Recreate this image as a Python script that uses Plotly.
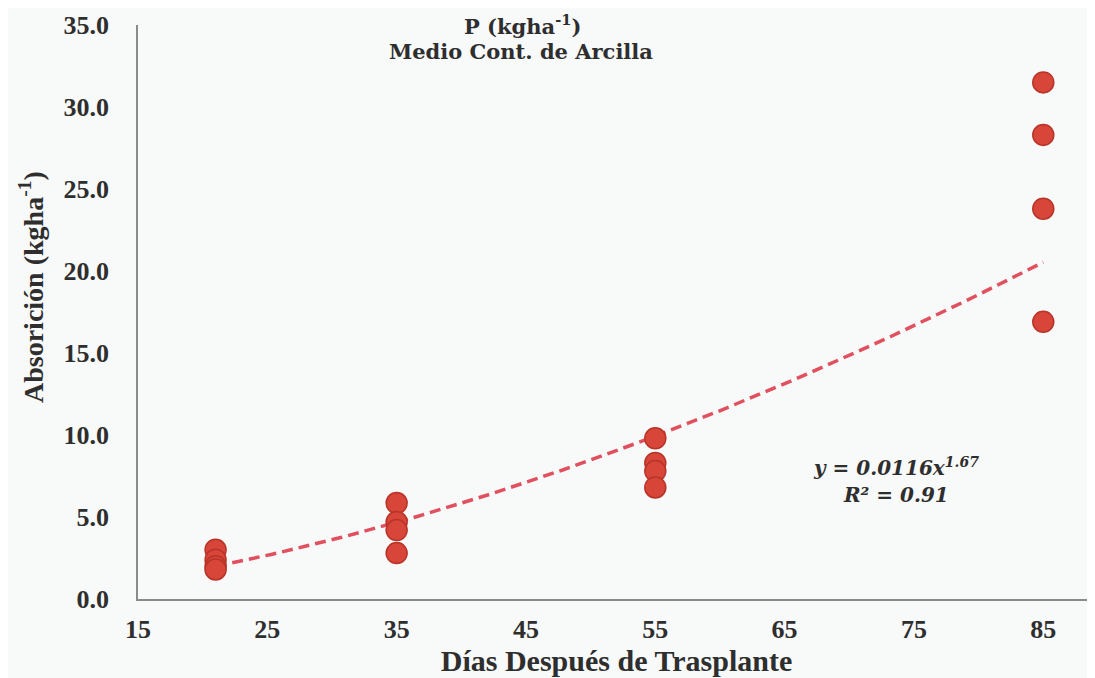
import numpy as np
import plotly.graph_objects as go

# Data
dias = [21, 21, 21, 21, 35, 35, 35, 35, 55, 55, 55, 55, 85, 85, 85, 85]
absorcion = [3.0, 2.4, 2.0, 1.8, 5.85, 4.7, 4.2, 2.8, 9.8, 8.3, 7.8, 6.8, 31.5, 28.3, 23.8, 16.9]

x_ticks = [15, 25, 35, 45, 55, 65, 75, 85]
y_ticks = [0, 5, 10, 15, 20, 25, 30, 35]

title_line1 = "P (kgha<sup>-1</sup>)"
title_line2 = "Medio Cont. de Arcilla"
eq_line1 = "y = 0.0116x<sup>1.67</sup>"
eq_line2 = "R² = 0.91"
x_title = "Días Después de Trasplante"
y_title = "Absorición (kgha<sup>-1</sup>)"

# Power trend fitted to the points (log-log least squares), as the chart's trendline
b_fit, ln_a = np.polyfit(np.log(dias), np.log(absorcion), 1)
trend_x = np.linspace(min(dias), max(dias), 120)
trend_y = np.exp(ln_a) * trend_x ** b_fit

serif = "Liberation Serif, Times New Roman, serif"
wide_serif = "DejaVu Serif, serif"
text_color = "#2e2e2e"
bg = "#f8f9f9"

W, H = 1087, 670          # page body adds an 8px offset
L, R, T, B = 130, 0, 17, 79
OFF = 8


def px(wx):
    return (wx - OFF - L) / (W - L - R)


def py(wy):
    return 1 - (wy - OFF - T) / (H - T - B)


fig = go.Figure()
fig.add_trace(go.Scatter(
    x=trend_x, y=trend_y, mode="lines",
    line=dict(color="#e0505e", width=3.5, dash="11px,6px"),
    hoverinfo="skip", showlegend=False,
))
fig.add_trace(go.Scatter(
    x=dias, y=absorcion, mode="markers",
    marker=dict(size=21, color="#d8463a", line=dict(color="#b83428", width=1.5)),
    showlegend=False,
))

fig.update_layout(
    width=W, height=H,
    margin=dict(l=L, r=R, t=T, b=B),
    paper_bgcolor=bg, plot_bgcolor=bg,
    font=dict(family=serif, color=text_color),
    xaxis=dict(
        range=[15, 89], tickvals=x_ticks, ticktext=[str(v) for v in x_ticks],
        showgrid=False, zeroline=False, showline=True, linecolor="#8a8a8a", linewidth=1.5,
        ticks="", ticklabelstandoff=6,
        tickfont=dict(size=26, family=serif, color=text_color, weight="bold"),
        title=dict(text=f"<b>{x_title}</b>", font=dict(size=30), standoff=0),
    ),
    yaxis=dict(
        range=[0, 35], tickvals=y_ticks, tickformat=".1f",
        showgrid=False, zeroline=False, showline=True, linecolor="#8a8a8a", linewidth=1.5,
        ticks="", ticklabelstandoff=22,
        tickfont=dict(size=26, family=serif, color=text_color, weight="bold"),
    ),
)

# y-axis title placed as rotated text where the reference has it
fig.add_annotation(
    x=px(31), y=py(287), xref="paper", yref="paper", showarrow=False,
    xanchor="center", yanchor="middle", textangle=-90,
    text=f"<b>{y_title}</b>",
    font=dict(size=28, family=serif, color=text_color),
)

for txt, wx, wy in [(title_line1, 522, 25), (title_line2, 521, 52)]:
    fig.add_annotation(
        x=px(wx), y=py(wy), xref="paper", yref="paper", showarrow=False,
        xanchor="center", yanchor="middle",
        text=f"<b>{txt}</b>",
        font=dict(size=21, family=wide_serif, color=text_color),
    )

for txt, wx, wy in [(eq_line1, 896, 467), (eq_line2, 896, 495)]:
    fig.add_annotation(
        x=px(wx), y=py(wy), xref="paper", yref="paper", showarrow=False,
        xanchor="center", yanchor="middle",
        text=f"<b><i>{txt}</i></b>",
        font=dict(size=20, family=wide_serif, color=text_color),
    )

fig.write_html("out.html")
